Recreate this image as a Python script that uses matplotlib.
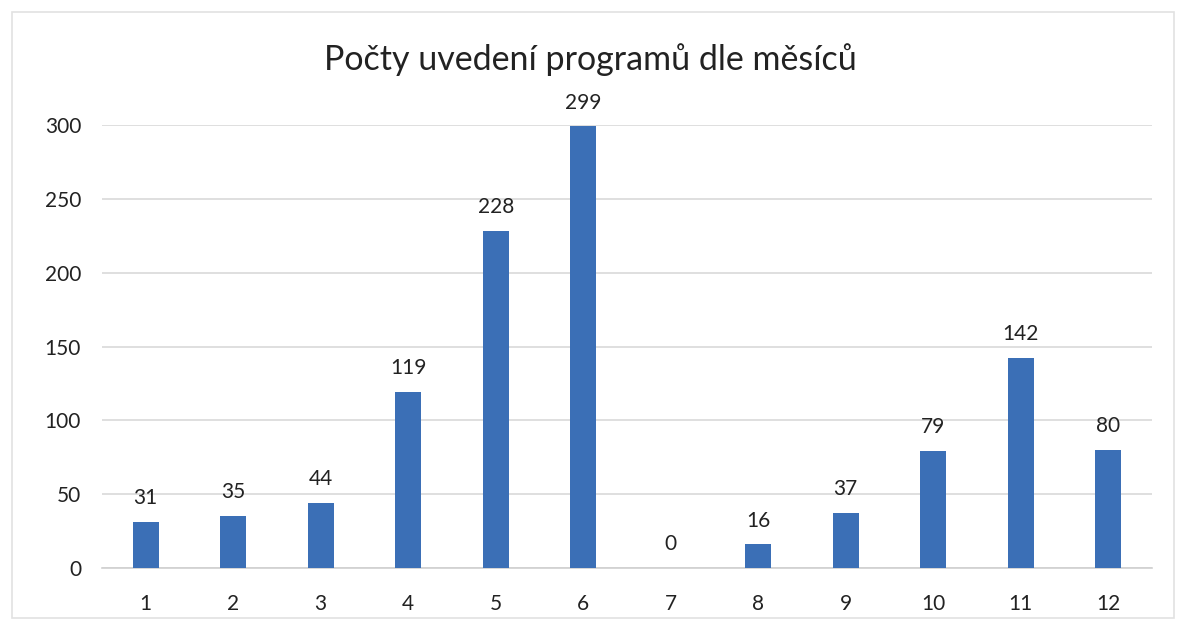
import matplotlib
matplotlib.use("Agg")
import matplotlib.pyplot as plt
from matplotlib.patches import Rectangle

months = ["1", "2", "3", "4", "5", "6", "7", "8", "9", "10", "11", "12"]
counts = [31, 35, 44, 119, 228, 299, 0, 16, 37, 79, 142, 80]
yticks = [0, 50, 100, 150, 200, 250, 300]
title = "Počty uvedení programů dle měsíců"

plt.rcParams['font.family'] = ['Lato', 'DejaVu Sans']

fig = plt.figure(figsize=(11.8, 6.24), dpi=100)
fig.patch.set_facecolor("white")
ax = fig.add_axes([0.0864, 0.0897, 0.8898, 0.71])

x = list(range(len(months)))
bars = ax.bar(x, counts, width=0.3, color="#3B6FB6", zorder=3)
for xi, v in zip(x, counts):
    ax.annotate(str(v), (xi, v), xytext=(0, 10), textcoords="offset points",
                ha="center", va="bottom", fontsize=15, color="#222222")

ax.set_xlim(-0.5, len(months) - 0.5)
ax.set_ylim(0, 300)
ax.set_yticks(yticks)
ax.set_xticks(x)
ax.set_xticklabels(months)
ax.tick_params(axis="both", length=0, labelsize=15, colors="#222222")
ax.tick_params(axis="y", pad=15)
ax.tick_params(axis="x", pad=19)
ax.grid(axis="y", color="#D9D9D9", linewidth=1.2, zorder=0)
for s in ["top", "right", "left"]:
    ax.spines[s].set_visible(False)
ax.spines["bottom"].set_color("#D0D0D0")
ax.spines["bottom"].set_linewidth(1.2)

fig.text(0.5, 0.905, title, ha="center", va="center", fontsize=24.5, color="#222222")

fig.patches.append(Rectangle((0.01, 0.01), 0.985, 0.97, transform=fig.transFigure,
                             fill=False, edgecolor="#E2E2E2", linewidth=1.2))

fig.savefig("out.png", dpi=100, facecolor="white")
